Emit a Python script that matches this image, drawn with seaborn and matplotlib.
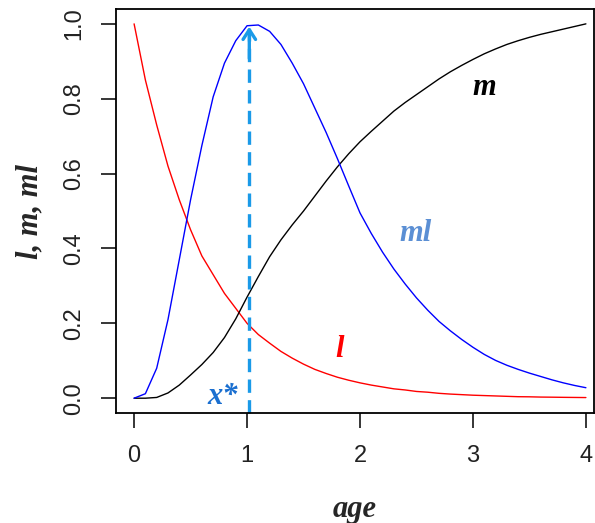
import numpy as np
import pandas as pd
import seaborn as sns
import matplotlib
matplotlib.use("Agg")
import matplotlib.pyplot as plt

# age grid and curves
age = [round(0.1 * i, 1) for i in range(41)]

l_vals = [1.0, 0.85, 0.73, 0.62, 0.53, 0.45, 0.38, 0.33, 0.28, 0.24,
          0.20, 0.17, 0.147, 0.125, 0.107, 0.091, 0.077, 0.066, 0.056, 0.048,
          0.041, 0.035, 0.030, 0.025, 0.022, 0.018, 0.016, 0.013, 0.011, 0.0095,
          0.008, 0.007, 0.006, 0.005, 0.004, 0.0037, 0.003, 0.0027, 0.0023, 0.002,
          0.0017]

m_vals = [0.0, 0.0, 0.002, 0.014, 0.035, 0.062, 0.09, 0.122, 0.162, 0.212,
          0.27, 0.325, 0.378, 0.423, 0.463, 0.50, 0.54, 0.58, 0.618, 0.653,
          0.685, 0.713, 0.74, 0.767, 0.79, 0.811, 0.832, 0.853, 0.872, 0.889,
          0.905, 0.92, 0.933, 0.945, 0.955, 0.964, 0.972, 0.979, 0.986, 0.993,
          1.0]

ml_vals = [0.0, 0.012, 0.08, 0.21, 0.37, 0.53, 0.675, 0.805, 0.895, 0.955,
           0.995, 0.997, 0.98, 0.945, 0.895, 0.84, 0.775, 0.71, 0.64, 0.567,
           0.495, 0.44, 0.39, 0.345, 0.305, 0.268, 0.235, 0.205, 0.18, 0.157,
           0.136, 0.117, 0.101, 0.088, 0.077, 0.067, 0.058, 0.049, 0.041, 0.034,
           0.028]

x_star = 1.02

df = pd.DataFrame({
    "age": age * 3,
    "value": l_vals + m_vals + ml_vals,
    "curve": ["l"] * len(age) + ["m"] * len(age) + ["ml"] * len(age),
})

sns.set_style("ticks")
plt.rcParams["font.family"] = ["Liberation Sans", "DejaVu Sans"]

fig = plt.figure(figsize=(5.95, 5.23), dpi=100)
ax = fig.add_axes([0.195, 0.21, 0.803, 0.773])

sns.lineplot(data=df, x="age", y="value", hue="curve",
             palette={"l": "#ff0000", "m": "#000000", "ml": "#0000ff"},
             linewidth=1.0, legend=False, ax=ax)

# x* arrow
ax.plot([x_star, x_star], [-0.04, 0.985], color="#1a9ae8", lw=2.4,
        linestyle=(0, (4, 2.2)), clip_on=False)
ax.annotate("", xy=(x_star, 1.0), xytext=(x_star, 0.9),
            arrowprops=dict(arrowstyle="->,head_length=0.7,head_width=0.45",
                            color="#1a9ae8", lw=2.4))

serif = ["Liberation Serif", "DejaVu Serif"]
txt = dict(family=serif, style="italic", weight="bold", fontsize=22,
           ha="center", va="center")
ax.text(3.1, 0.83, "m", color="black", **txt)
ax.text(2.49, 0.44, "ml", color="#5b8fd4", **txt)
ax.text(1.82, 0.13, "l", color="#ff0000", **txt)
ax.text(0.78, 0.005, "x*", color="#1a6fd0", **txt)

ax.set_xlim(-0.16, 4.07)
ax.set_ylim(-0.04, 1.04)
ax.set_xticks([0, 1, 2, 3, 4])
ax.set_yticks([0.0, 0.2, 0.4, 0.6, 0.8, 1.0])
ax.set_yticklabels(["0.0", "0.2", "0.4", "0.6", "0.8", "1.0"],
                   rotation=90, va="center")
ax.tick_params(length=11, width=1.1, labelsize=17, colors="black",
               labelcolor="#222222")
ax.tick_params(axis="x", pad=12)
ax.tick_params(axis="y", pad=11)
for s in ax.spines.values():
    s.set_linewidth(1.3)
    s.set_color("black")

ax.set_xlabel("age", family=serif, style="italic", weight="bold",
              fontsize=22, labelpad=20)
ax.set_ylabel("l, m, ml", family=serif, style="italic", weight="bold",
              fontsize=22, labelpad=14)

fig.savefig("out.png", dpi=100)
